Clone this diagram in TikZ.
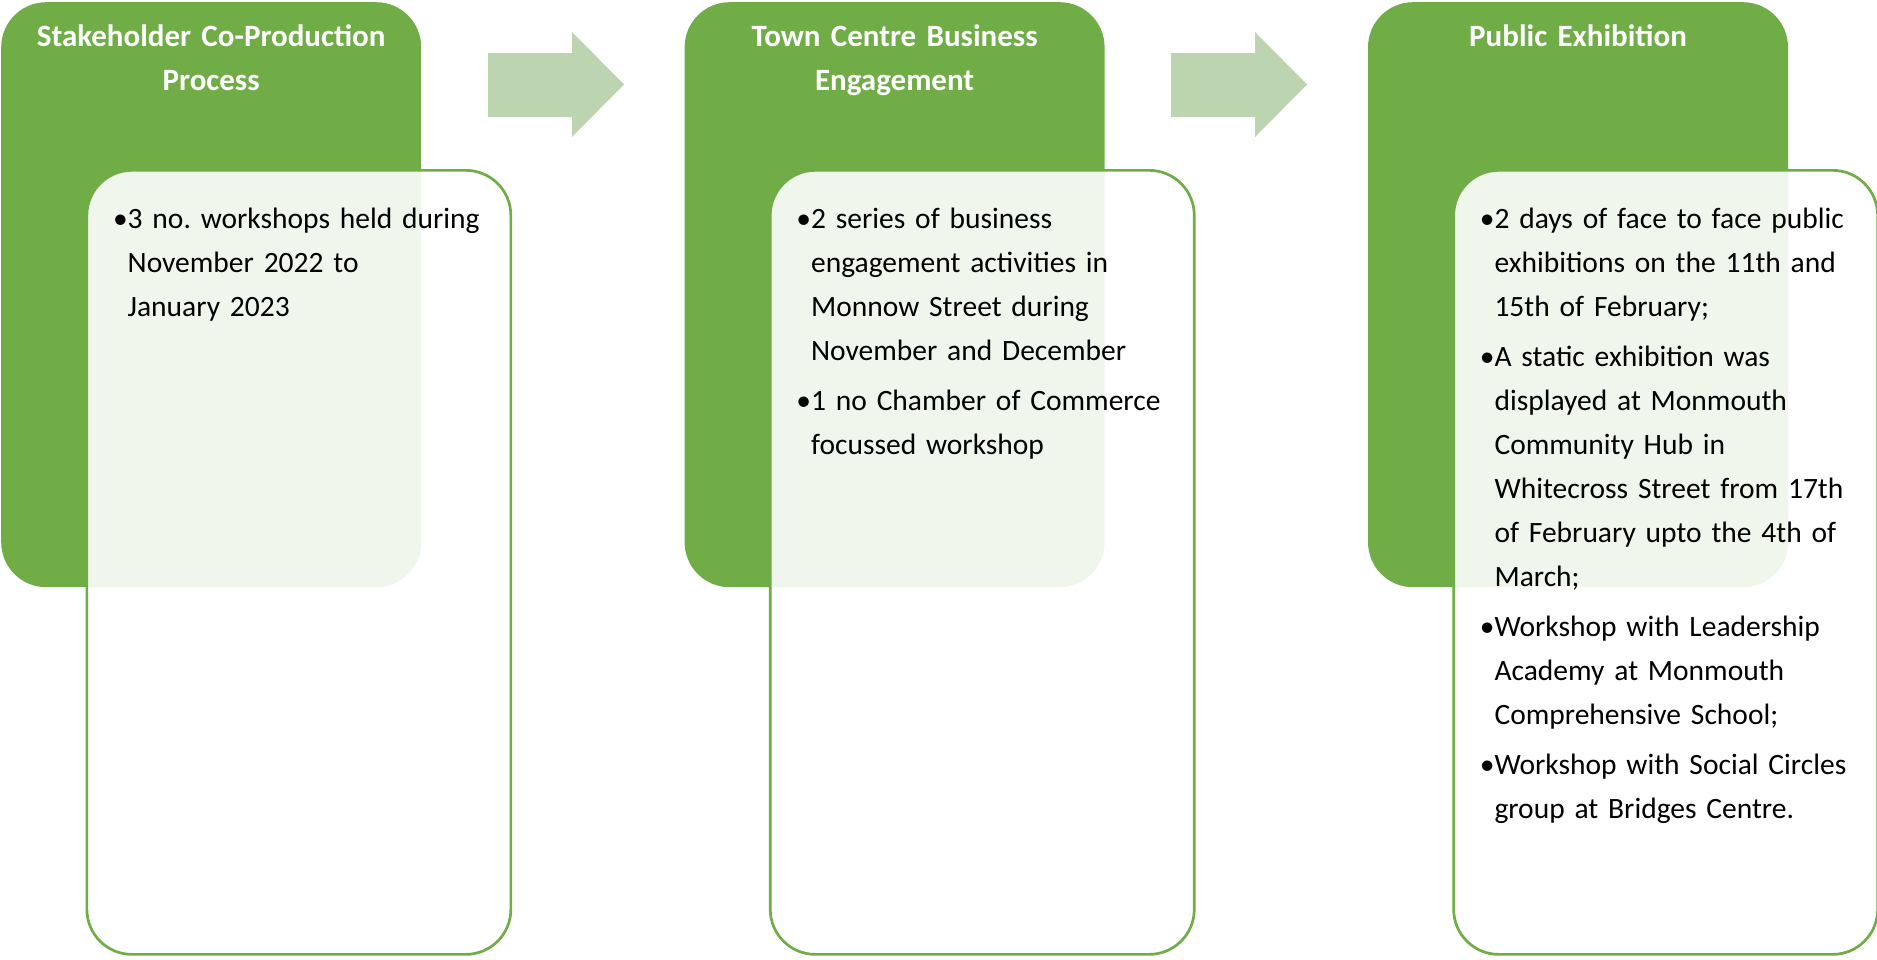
\documentclass[tikz,border=0pt]{standalone}
\usepackage{fontspec}
\setmainfont[WordSpace=0.75]{Carlito}
\usetikzlibrary{positioning}
\definecolor{stagegreen}{HTML}{70AD47}
\definecolor{arrowgreen}{HTML}{BCD5B0}
\newcommand{\bulletitem}{\leavevmode\llap{\textbullet}}

\begin{document}
\frenchspacing
\begin{tikzpicture}[x=1bp,y=-1bp,
        stage/.style={rectangle, rounded corners=45bp, fill=stagegreen, minimum width=420bp, minimum height=585bp, inner sep=0pt},
        detail/.style={rectangle, rounded corners=45bp, draw=stagegreen, line width=2.7bp, fill=white, fill opacity=0.9, minimum width=424bp, minimum height=784bp, inner sep=0pt},
        title/.style={text=white, font=\bfseries\fontsize{31bp}{44bp}\selectfont, text width=410bp, align=center, inner sep=0pt, anchor=base},
        items/.style={text=black, font=\fontsize{29.5bp}{44bp}\selectfont, text width=380bp, align=left, inner sep=0pt, anchor=base west},
        flow/.style={fill=arrowgreen},]
    \useasboundingbox (0,0) rectangle (1877,959);
    \node[stage, anchor=north west] (stage1) at (1,2) {};
    \node[stage, right=263bp of stage1] (stage2) {};
    \node[stage, right=263bp of stage2] (stage3) {};
    \node[title] (title1) at ([yshift=-44bp]stage1.north) {Stakeholder Co-Production\\Process};
    \node[title] (title2) at ([yshift=-44bp]stage2.north) {Town Centre Business\\Engagement};
    \node[title] (title3) at ([yshift=-44bp]stage3.north) {Public Exhibition};
    \node[detail, below right=167bp and 84.5bp of stage1.north west] (detail1) {};
    \node[detail, below right=167bp and 84.5bp of stage2.north west] (detail2) {};
    \node[detail, below right=167bp and 84.5bp of stage3.north west] (detail3) {};
    \node[items] (list1) at ([xshift=42bp,yshift=-59bp]detail1.north west)
        {\bulletitem 3 no. workshops held during\\November 2022 to\\January 2023};
    \node[items] (list2) at ([xshift=42bp,yshift=-59bp]detail2.north west)
        {\bulletitem 2 series of business\\engagement activities in\\Monnow Street during\\November and December\\[6bp]%
         \bulletitem 1 no Chamber of Commerce\\focussed workshop};
    \node[items] (list3) at ([xshift=42bp,yshift=-59bp]detail3.north west)
        {\bulletitem 2 days of face to face public\\exhibitions on the 11th and\\15th of February;\\[6bp]%
         \bulletitem A static exhibition was\\displayed at Monmouth\\Community Hub in\\Whitecross Street from 17th\\of February upto the 4th of\\March;\\[6bp]%
         \bulletitem Workshop with Leadership\\Academy at Monmouth\\Comprehensive School;\\[6bp]%
         \bulletitem Workshop with Social Circles\\group at Bridges Centre.};
    \coordinate (gap1) at (488,53);
    \coordinate[right=683bp of gap1] (gap2);
    \fill[flow] (gap1) -- ++(84,0) -- ++(0,-21) -- ++(52,52.5) -- ++(-52,52.5) -- ++(0,-20) -- ++(-84,0) -- cycle;
    \fill[flow] (gap2) -- ++(84,0) -- ++(0,-21) -- ++(52,52.5) -- ++(-52,52.5) -- ++(0,-20) -- ++(-84,0) -- cycle;
\end{tikzpicture}
\end{document}
